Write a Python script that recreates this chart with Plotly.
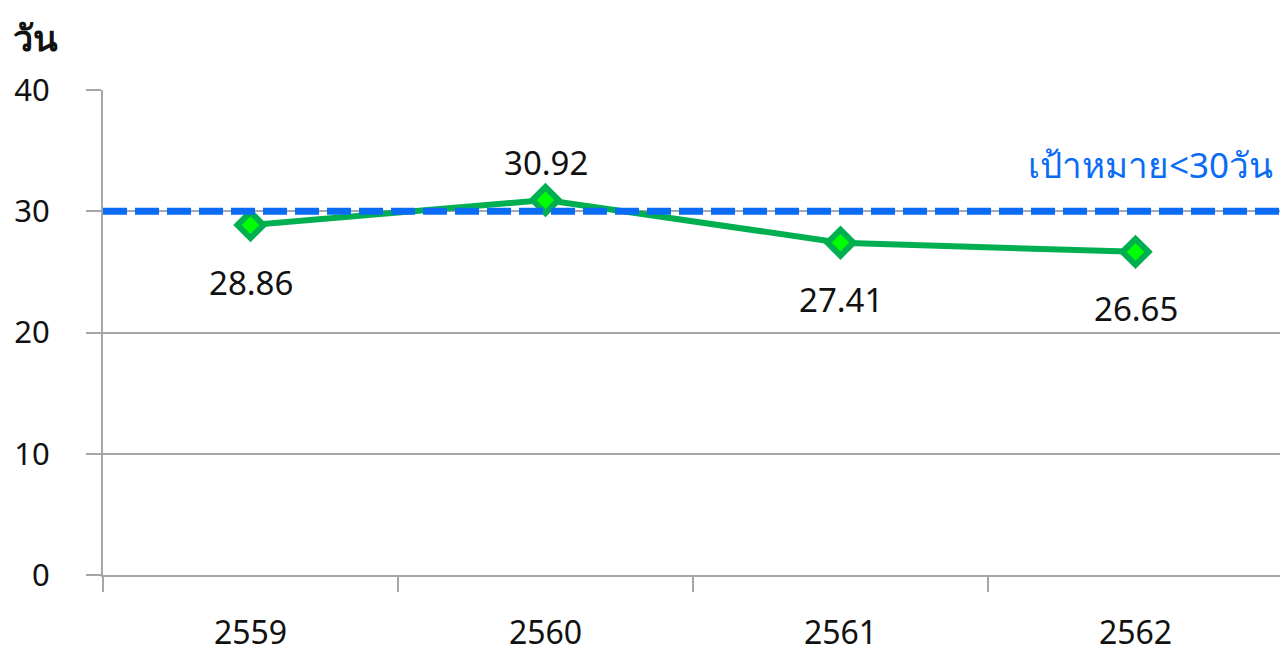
import plotly.graph_objects as go

# data
years = ["2559", "2560", "2561", "2562"]
days = [28.86, 30.92, 27.41, 26.65]
label_shift = [-57, 38, -57, -57]  # label above/below point (px)
target = 30
target_label = "เป้าหมาย<30วัน"
y_ticks = [0, 10, 20, 30, 40]

FONT = "Noto Sans, Tahoma, sans-serif"
GRID = "#A6A6A6"
GREEN = "#00B050"
BLUE = "#0A6CF5"

fig = go.Figure()

# target line on a hidden overlay axis so it spans the full plot width
fig.add_trace(go.Scatter(
    x=[0, 1], y=[target, target], xaxis="x2",
    mode="lines",
    line=dict(color=BLUE, width=7, dash="24px,8px"),
    showlegend=False, hoverinfo="skip",
))

fig.add_trace(go.Scatter(
    x=years, y=days,
    mode="lines+markers",
    line=dict(color=GREEN, width=6),
    marker=dict(symbol="diamond", size=20, color="#00FF00",
                line=dict(color=GREEN, width=6)),
    showlegend=False,
    hoverinfo="skip",
))

# value labels (x by category index)
for i, (y, s) in enumerate(zip(days, label_shift)):
    fig.add_annotation(x=i, y=y, text=f"{y:.2f}", showarrow=False,
                       yshift=s, font=dict(size=33, color="#111111", family=FONT))

fig.add_annotation(xref="paper", x=0.993, yref="y", y=target, yshift=47,
                   xanchor="right", text=target_label, showarrow=False,
                   font=dict(size=35, color=BLUE, family=FONT))

# axis title
fig.add_annotation(xref="paper", yref="paper", x=-0.078, y=1.109,
                   xanchor="left", yanchor="middle", text="<b>วัน</b>", showarrow=False,
                   font=dict(size=36, color="#111111", family=FONT))

fig.update_layout(
    xaxis=dict(
        type="category",
        tickson="boundaries",
        ticks="outside", ticklen=15, tickwidth=2, tickcolor=GRID,
        showline=True, linecolor=GRID, linewidth=2,
        showgrid=False,
        ticklabelstandoff=29,
        tickfont=dict(size=32, color="#111111", family=FONT),
        range=[-0.5, 3.5],
        automargin=False,
    ),
    xaxis2=dict(overlaying="x", range=[0, 1], visible=False),
    yaxis=dict(
        range=[0, 40], tickvals=y_ticks,
        ticks="outside", ticklen=15, tickwidth=2, tickcolor=GRID,
        showline=True, linecolor=GRID, linewidth=2,
        showgrid=True, gridcolor=GRID, gridwidth=2,
        zeroline=False,
        ticklabelstandoff=30,
        tickfont=dict(size=31, color="#111111", family=FONT),
        automargin=False,
    ),
    width=1280, height=647,
    margin=dict(l=95, r=5, t=82, b=80),
    plot_bgcolor="white", paper_bgcolor="white",
)

fig.write_html("out.html")
